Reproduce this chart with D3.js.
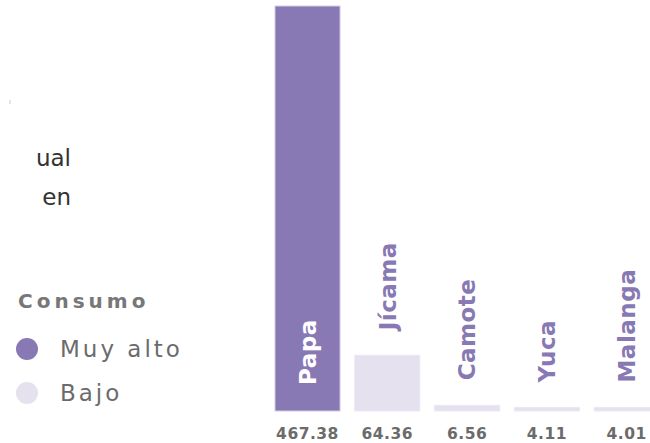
<!DOCTYPE html>
<html>
<head>
<meta charset="utf-8">
<script src="https://cdn.jsdelivr.net/npm/d3@7"></script>
<style>
  html, body { margin: 0; padding: 0; background: #ffffff; }
  svg { display: block; }
</style>
</head>
<body>
<div id="chart"></div>
<script>
// Consumo anual por cultivo (raíces y tubérculos)
const categories = ["Papa", "Jícama", "Camote", "Yuca", "Malanga"];
const values = [467.38, 64.36, 6.56, 4.11, 4.01];
const levels = ["Muy alto", "Bajo", "Bajo", "Bajo", "Bajo"];
const legendLevels = ["Muy alto", "Bajo"];
const titleLines = ["ual", "en"];

const W = 650, H = 443;
const baseY = 411, topY = 6;

const color = d3.scaleOrdinal()
  .domain(legendLevels)
  .range(["#8878b4", "#e5e1ef"]);
const labelColor = "#8878b4";
const textGrey = "#6b6b6b";
const font = "'DejaVu Sans', sans-serif";

const svg = d3.select("#chart").append("svg")
  .attr("width", W).attr("height", H)
  .style("font-family", font);

const x = d3.scaleBand()
  .domain(categories)
  .range([275, 659.2])
  .paddingInner(0.185)
  .paddingOuter(0);

const y = d3.scaleLinear()
  .domain([0, d3.max(values)])
  .range([baseY, topY]);

const data = categories.map((c, i) => ({ cat: c, value: values[i], level: levels[i] }));
const isInside = d => (baseY - y(d.value)) > 200;

// Bars
svg.append("g").selectAll("rect")
  .data(data)
  .join("rect")
  .attr("x", d => x(d.cat))
  .attr("y", d => y(d.value))
  .attr("width", x.bandwidth())
  .attr("height", d => baseY - y(d.value))
  .attr("fill", d => color(d.level))
  .attr("stroke", d => d.level === "Muy alto" ? "#d3cbe6" : "#ebe8f3")
  .attr("stroke-width", 1);

// Rotated category labels: inside tall bars, above short ones
const labelGap = 25;
svg.append("g").selectAll("text")
  .data(data)
  .join("text")
  .attr("transform", d => {
    const cx = x(d.cat) + x.bandwidth() / 2;
    const cy = isInside(d) ? baseY - 26 : y(d.value) - labelGap;
    return `translate(${cx},${cy}) rotate(-90)`;
  })
  .attr("dy", "0.36em")
  .attr("text-anchor", "start")
  .attr("fill", d => isInside(d) ? "#ffffff" : labelColor)
  .attr("font-weight", "bold")
  .attr("font-size", 23)
  .attr("letter-spacing", 0.5)
  .text(d => d.cat);

// Value labels under the bars
svg.append("g").selectAll("text")
  .data(data)
  .join("text")
  .attr("x", d => x(d.cat) + x.bandwidth() / 2)
  .attr("y", 438.5)
  .attr("text-anchor", "middle")
  .attr("fill", textGrey)
  .attr("font-weight", "bold")
  .attr("font-size", 15.5)
  .attr("letter-spacing", 0.5)
  .text(d => d3.format(".2f")(d.value));

// Title lines (clipped on the left)
svg.append("g").selectAll("text")
  .data(titleLines)
  .join("text")
  .attr("x", 71)
  .attr("y", (d, i) => 166 + i * 39)
  .attr("text-anchor", "end")
  .attr("fill", "#333333")
  .attr("font-size", 23)
  .text(d => d);

svg.append("line")
  .attr("x1", 10).attr("x2", 10)
  .attr("y1", 100).attr("y2", 104)
  .attr("stroke", "#cccccc").attr("stroke-width", 1);

// Legend
const legend = svg.append("g");
legend.append("text")
  .attr("x", 18).attr("y", 308)
  .attr("fill", "#777777")
  .attr("font-weight", "bold")
  .attr("font-size", 20)
  .attr("letter-spacing", 4)
  .text("Consumo");

const items = legend.selectAll("g.item")
  .data(legendLevels)
  .join("g")
  .attr("class", "item")
  .attr("transform", (d, i) => `translate(0, ${349 + i * 44})`);

items.append("circle")
  .attr("cx", 27).attr("cy", 0).attr("r", 11)
  .attr("fill", d => color(d));

items.append("text")
  .attr("x", 60).attr("y", 0)
  .attr("dy", "0.36em")
  .attr("fill", textGrey)
  .attr("font-size", 23)
  .attr("letter-spacing", 3)
  .text(d => d);
</script>
</body>
</html>
